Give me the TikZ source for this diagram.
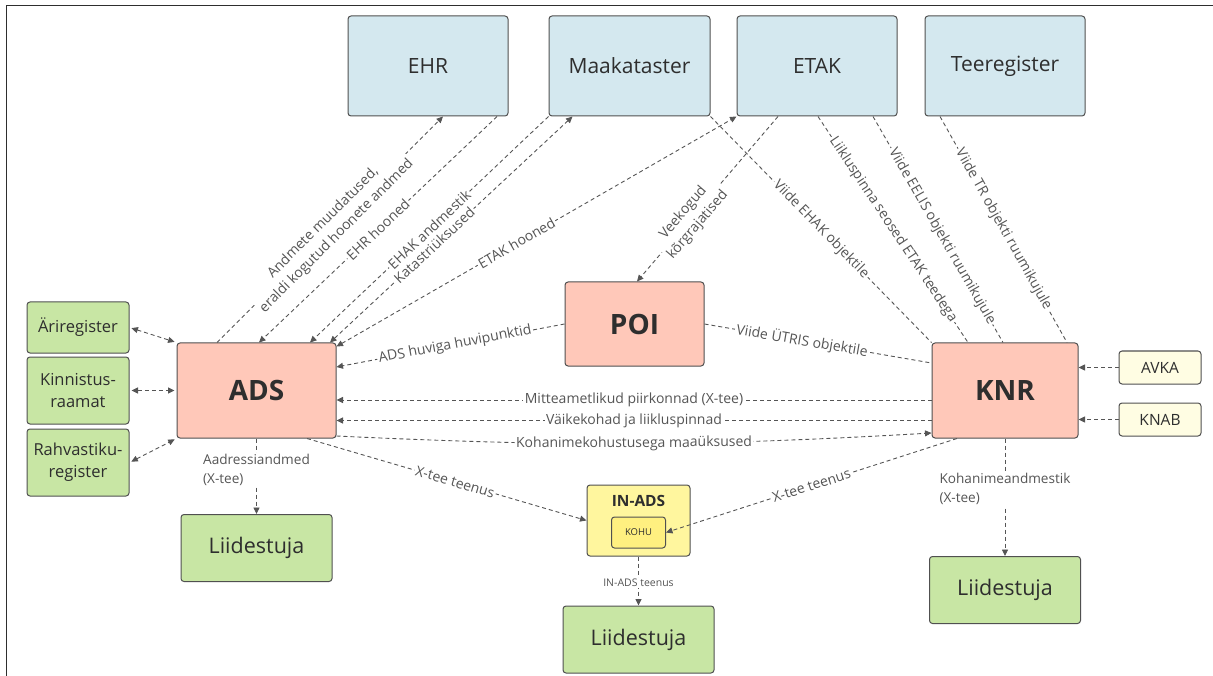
\documentclass[tikz,border=0pt]{standalone}
\usepackage{fontspec}
\setmainfont{Open Sans}
\usetikzlibrary{calc, arrows.meta}

\definecolor{regblue}{HTML}{D4E8EF}
\definecolor{coresalmon}{HTML}{FFC8B9}
\definecolor{usergreen}{HTML}{C8E6A4}
\definecolor{srcyellow}{HTML}{FFFDE3}
\definecolor{inadsyellow}{HTML}{FFF69E}
\definecolor{kohuyellow}{HTML}{FFF080}
\definecolor{edgegray}{HTML}{555555}
\definecolor{boxline}{HTML}{505050}
\definecolor{textdark}{HTML}{2E2E2E}

\begin{document}
\begin{tikzpicture}[x=1pt, y=-1pt,
  box/.style={draw=boxline, line width=1pt, rounded corners=3pt, inner sep=0pt, text=textdark},
  register/.style={box, fill=regblue, minimum width=160pt, minimum height=100pt, font=\fontsize{21}{25}\selectfont},
  core/.style={box, fill=coresalmon, font=\fontsize{28}{32}\selectfont\bfseries},
  outside/.style={box, fill=usergreen, minimum width=102pt, align=center, font=\fontsize{16.5}{22}\selectfont},
  client/.style={box, fill=usergreen, minimum width=151pt, minimum height=67pt, font=\fontsize{21.5}{25}\selectfont},
  source/.style={box, fill=srcyellow, minimum width=82pt, minimum height=33pt, font=\fontsize{15.5}{18}\selectfont},
  link/.style={draw=edgegray, line width=0.9pt, dash pattern=on 4pt off 3pt},
  arrowend/.style={-{Triangle[length=6.5pt,width=6pt]}},
  arrowboth/.style={{Triangle[length=6.5pt,width=6pt]}-{Triangle[length=6.5pt,width=6pt]}},
  lbl/.style={fill=white, inner sep=1.5pt, text=edgegray, sloped, font=\fontsize{14}{19}\selectfont},
  note/.style={fill=white, inner sep=1.5pt, text=edgegray, align=left, font=\fontsize{13.6}{19}\selectfont}
]
\useasboundingbox (0,0) rectangle (1213,676);

% Frame on top and left
\draw[line width=1pt, textdark] (6,676) -- (6,6) -- (1213,6);

% Registers on top
\node[register] (ehr) at (428,66) {EHR};
\node[register, minimum width=161pt] (maakataster) at (629.5,66) {Maakataster};
\node[register] (etak) at (817,66) {ETAK};
\node[register] (teeregister) at (1005,66) {Teeregister};

% Core systems
\node[core, minimum width=159pt, minimum height=95pt] (ads) at (256.5,390.5) {ADS};
\node[core, minimum width=139pt, minimum height=84pt] (poi) at (634.5,324) {POI};
\node[core, minimum width=146pt, minimum height=95pt] (knr) at (1005,390.5) {KNR};

% Registers on the left
\node[outside, minimum height=51pt] (arireg) at (78,327.5) {Äriregister};
\node[outside, minimum height=67pt] (kinnistus) at (78,390.5) {Kinnistus-\\raamat};
\node[outside, minimum height=67pt] (rahvastik) at (78,462.5) {Rahvastiku-\\register};

% Sources of KNR
\node[source] (avka) at (1160,367.5) {AVKA};
\node[source] (knab) at (1160,419.5) {KNAB};

% IN-ADS with KOHU inside
\node[box, fill=inadsyellow, minimum width=103pt, minimum height=71pt] (inads) at (638.5,520.5) {};
\node[text=textdark, font=\fontsize{15.5}{18}\selectfont\bfseries] (inadstitle) at (638.5,501) {IN-ADS};
\node[box, fill=kohuyellow, minimum width=54pt, minimum height=31pt, font=\fontsize{9.5}{11}\selectfont] (kohu) at (638.5,532.5) {KOHU};

% Clients
\node[client] (liidads) at (256.5,548) {Liidestuja};
\node[client] (liidinads) at (638.5,639.5) {Liidestuja};
\node[client] (liidknr) at (1005,590) {Liidestuja};

% Links between ADS and the registers on top
\draw[link, arrowend] ([xshift=-39.5pt]ads.north) -- node[lbl, align=center] {Andmete muudatused,\\eraldi kogutud hoonete andmed} ([xshift=15pt]ehr.south);
\draw[link, arrowend] ([xshift=69pt]ehr.south) -- node[lbl] {EHR hooned} ([xshift=2.5pt]ads.north);
\draw[link, arrowend] (maakataster.south west) -- node[lbl] {EHAK andmestik} ([xshift=53.5pt]ads.north);
\draw[link, arrowboth] ([xshift=73.5pt]ads.north) -- node[lbl, pos=0.43] {Katastriüksused} ([xshift=24pt]maakataster.south west);
\draw[link, arrowboth] ([yshift=-4pt]ads.north east) -- node[lbl, pos=0.45] {ETAK hooned} (etak.south west);
\draw[link, arrowend] ([xshift=-39pt]etak.south) -- node[lbl, align=center, pos=0.62] {Veekogud\\kõrgrajatised} ([xshift=2.5pt]poi.north);

% Links down to KNR
\draw[link] (maakataster.south east) -- node[lbl] {Viide EHAK objektile} (knr.north west);
\draw[link] ([xshift=1pt]etak.south) -- node[lbl] {Liikluspinna seosed ETAK teedega} ([xshift=-37pt]knr.north);
\draw[link] ([xshift=56pt]etak.south) -- node[lbl, pos=0.53] {Viide EELIS objekti ruumikujule} ([xshift=-2pt]knr.north);
\draw[link] ([xshift=-65pt]teeregister.south) -- node[lbl] {Viide TR objekti ruumikujule} ([xshift=62pt]knr.north);

% POI links
\draw[link, arrowend] (poi.west) -- node[lbl, pos=0.48] {ADS huviga huvipunktid} ([yshift=23.5pt]ads.east);
\draw[link] (poi.east) -- node[lbl, pos=0.43] {Viide ÜTRIS objektile} ([yshift=27.5pt]knr.west);

% ADS <-> KNR
\draw[link, arrowend] ([yshift=-9.5pt]knr.west) -- node[lbl] {Mitteametlikud piirkonnad (X-tee)} ([yshift=-9.5pt]ads.east);
\draw[link, arrowend] ([yshift=-30pt]knr.west) -- node[lbl] {Väikekohad ja liikluspinnad} ([yshift=-30pt]ads.east);
\draw[link, arrowend] ([yshift=-45.5pt]ads.east) to[bend right=3] node[lbl] {Kohanimekohustusega maaüksused} ([yshift=-42.5pt]knr.west);

% Left registers and KNR sources
\draw[link, arrowboth, shorten <=2pt, shorten >=2pt] (arireg.east) -- (ads.north west);
\draw[link, arrowboth, shorten <=2pt, shorten >=2pt] (kinnistus.east) -- (ads.west);
\draw[link, arrowboth, shorten <=2pt, shorten >=2pt] (rahvastik.east) -- (ads.south west);
\draw[link, arrowend] (avka.west) -- (avka.west -| knr.east);
\draw[link, arrowend] (knab.west) -- (knab.west -| knr.east);

% Services down to the clients
\draw[link, arrowend] (ads.south) -- node[note, pos=0.42] {Aadressiandmed\\(X-tee)} (liidads.north);
\draw[link, arrowend] (knr.south) -- node[note, pos=0.43] {Kohanimeandmestik\\(X-tee)} (liidknr.north);
\draw[link, arrowend] ([xshift=50.5pt]ads.south) -- node[lbl, pos=0.53] {X-tee teenus} (inads.west);
\draw[link, arrowend] ([xshift=-48pt]knr.south) -- node[lbl, pos=0.5] {X-tee teenus} (kohu.east);
\draw[link, arrowend] (inads.south) -- node[fill=white, inner sep=1pt, text=edgegray, font=\fontsize{10.5}{12}\selectfont, pos=0.54] {IN-ADS teenus} (liidinads.north);

\end{tikzpicture}
\end{document}
